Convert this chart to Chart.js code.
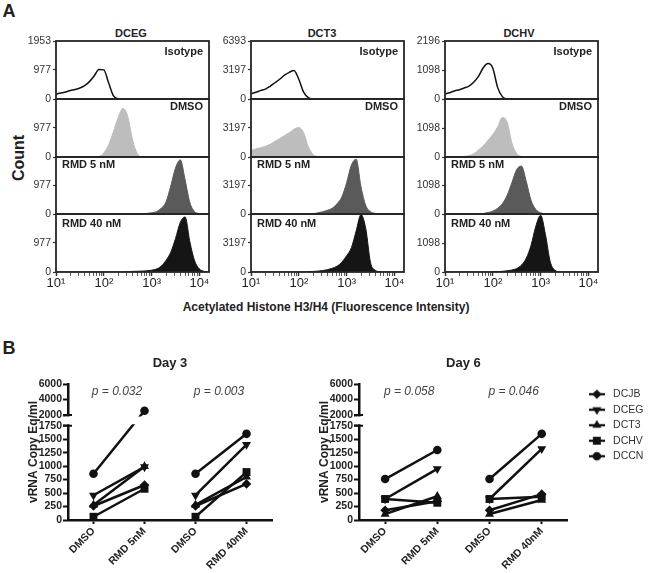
<!DOCTYPE html>
<html><head><meta charset="utf-8">
<script src="https://cdn.jsdelivr.net/npm/chart.js@4/dist/chart.umd.min.js"></script>
<style>
html,body{margin:0;padding:0;background:#fff;overflow:hidden;}
#root{position:relative;width:650px;height:573px;overflow:hidden;font-family:"Liberation Sans",Arial,Helvetica,sans-serif;color:#222;}
canvas{position:absolute;}
.t{position:absolute;white-space:nowrap;transform:translate(-50%,-50%);font-weight:bold;line-height:1;}
</style></head><body><div id="root">
<div class="t" style="left:9px;top:11px;font-size:18px">A</div>
<div class="t" style="left:9px;top:348px;font-size:18px">B</div>
<div class="t" style="left:131px;top:33px;font-size:11px">DCEG</div>
<div class="t" style="left:322px;top:33px;font-size:11px">DCT3</div>
<div class="t" style="left:519px;top:33px;font-size:11px">DCHV</div>
<div class="t" style="left:19px;top:158px;font-size:16px;transform:translate(-50%,-50%) rotate(-90deg)">Count</div>
<div class="t" style="left:326px;top:307px;font-size:12px">Acetylated Histone H3/H4 (Fluorescence Intensity)</div>
</div>
<script>
// ---------------- DATA ----------------
// Panel A: fluorescence bin centres (log-spaced) and counts per bin
const fluorescence = [10,12.6,15.8,20,25.1,31.6,39.8,50.1,63.1,79.4,100,126,158,200,251,316,398,501,631,794,1000,1259,1585,1995,2512,3162,3981,5012,6310,7943,10000,12589,15849];

const dcegIsotype = [170,200,235,285,320,370,450,585,780,995,980,545,115,10,0,0,0,0,0,0,0,0,0,0,0,0,0,0,0,0,0,0,0];
const dcegDMSO    = [0,0,0,0,0,0,0,0,0,20,135,410,840,1330,1640,1370,585,115,10,0,0,0,0,0,0,0,0,0,0,0,0,0,0];
const dcegRMD5    = [0,0,0,0,0,0,0,0,0,0,0,0,0,0,0,0,0,5,10,20,40,80,195,410,960,1580,1855,1170,390,80,15,0,0];
const dcegRMD40   = [0,0,0,0,0,0,0,0,0,0,0,0,0,0,0,10,20,25,30,40,60,100,195,390,665,1130,1670,1855,1015,370,100,20,0];

const dct3Isotype = [575,735,925,1085,1405,1790,2175,2620,2940,3150,2175,765,160,0,0,0,0,0,0,0,0,0,0,0,0,0,0,0,0,0,0,0,0];
const dct3DMSO    = [735,895,1020,1180,1405,1725,2045,2365,2685,3070,3260,2685,1150,255,65,0,0,0,0,0,0,0,0,0,0,0,0,0,0,0,0,0,0];
const dct3RMD5    = [0,0,0,0,0,0,0,0,0,0,0,0,0,30,130,255,415,640,1150,1920,3515,5500,6140,3070,960,255,65,0,0,0,0,0,0];
const dct3RMD40   = [0,0,0,0,0,0,0,0,0,0,0,0,30,65,95,160,255,415,640,1085,1790,2685,4540,6330,4795,1020,190,30,0,0,0,0,0];

const dchvIsotype = [200,240,305,350,415,485,635,855,1185,1340,1165,440,90,10,0,0,0,0,0,0,0,0,0,0,0,0,0,0,0,0,0,0,0];
const dchvDMSO    = [0,0,0,10,25,55,120,265,420,635,855,1140,1495,1320,525,130,20,0,0,0,0,0,0,0,0,0,0,0,0,0,0,0,0];
const dchvRMD5    = [0,0,0,0,0,0,0,10,20,55,110,220,395,725,1210,1715,1845,1250,525,175,45,10,0,0,0,0,0,0,0,0,0,0,0];
const dchvRMD40   = [0,0,0,0,0,0,0,0,0,0,10,15,25,45,75,130,265,525,1010,1735,2150,1425,395,65,10,0,0,0,0,0,0,0,0];

const cellLines  = ['DCEG','DCT3','DCHV'];
const conditions = ['Isotype','DMSO','RMD 5 nM','RMD 40 nM'];
const countMax   = [1953, 6393, 2196];
const countMid   = [977, 3197, 1098];
const fluorTicks = [10, 100, 1000, 10000];
const fluorTickLabels = ['10\u00B9','10\u00B2','10\u00B3','10\u2074'];

// Panel B
const treatments = ['DMSO','RMD 5nM','DMSO','RMD 40nM'];
const donors = ['DCJB','DCEG','DCT3','DCHV','DCCN'];
const day3DCJB = [260, 650, 260, 670];
const day3DCEG = [460, 985, 460, 1400];
const day3DCT3 = [280, 995, 280, 800];
const day3DCHV = [60, 580, 60, 890];
const day3DCCN = [860, 2550, 860, 1600];
const day6DCJB = [180, 350, 180, 480];
const day6DCEG = [390, 950, 390, 1320];
const day6DCT3 = [110, 440, 110, 370];
const day6DCHV = [390, 320, 390, 430];
const day6DCCN = [760, 1300, 760, 1600];
const pValuesDay3 = ['p = 0.032', 'p = 0.003'];
const pValuesDay6 = ['p = 0.058', 'p = 0.046'];
const vrnaTicks = [0,250,500,750,1000,1250,1500,1750,2000,4000,6000];
const yBreakLow = 1750, yBreakHigh = 2000;

// ---------------- SETUP ----------------
const FONT = '"Liberation Sans", Arial, Helvetica, sans-serif';
Chart.defaults.font.family = FONT;
Chart.defaults.color = '#222';
Chart.defaults.animation = false;
Chart.defaults.plugins.legend.display = false;
Chart.defaults.plugins.tooltip.enabled = false;
const root = document.getElementById('root');

// ---------- Panel A ----------
const histData = [
  [dcegIsotype, dcegDMSO, dcegRMD5, dcegRMD40],
  [dct3Isotype, dct3DMSO, dct3RMD5, dct3RMD40],
  [dchvIsotype, dchvDMSO, dchvRMD5, dchvRMD40]
];
const fillColors = ['#111111', '#bdbdbd', '#5a5a5a', '#151515'];
const colLefts = [56, 251, 445];
const plotW = 153;
const rowTops = [41, 99, 157, 214];
const rowHs = [58, 58, 57, 58];
const labelPos = [{align:'right', dy:10.5},{align:'right', dy:8},{align:'left', dy:8},{align:'left', dy:10}];

const allFluorTicks = [];
fluorTicks.forEach((d, i) => { for (let m = 1; m <= 9; m++) { const v = d * m; if (v <= 15849 && (i < 3 || m === 1)) allFluorTicks.push(v); } });

const framePlugin = {
  id: 'frame',
  afterDatasetsDraw(chart, args, opts) {
    const {ctx, chartArea: a} = chart;
    ctx.save();
    ctx.strokeStyle = '#262626'; ctx.lineWidth = 1.8;
    ctx.strokeRect(a.left, a.top, a.right - a.left, a.bottom - a.top);
    if (opts.label) {
      ctx.font = 'bold 11px ' + FONT; ctx.fillStyle = '#222'; ctx.textBaseline = 'middle';
      if (opts.align === 'right') { ctx.textAlign = 'right'; ctx.fillText(opts.label, a.right - 6, a.top + opts.dy); }
      else { ctx.textAlign = 'left'; ctx.fillText(opts.label, a.left + 6, a.top + opts.dy); }
    }
    ctx.restore();
  }
};

function makeHist(col, row) {
  const cv = document.createElement('canvas');
  const padT = 10, padR = 10, yW = 50;
  const last = row === 3;
  const xH = last ? 26 : 0, padB = last ? 0 : 10;
  cv.width = yW + plotW + padR;
  cv.height = padT + rowHs[row] + xH + padB;
  cv.style.left = (colLefts[col] - yW) + 'px';
  cv.style.top = (rowTops[row] - padT) + 'px';
  root.appendChild(cv);
  const counts = histData[col][row];
  const yTicks = row === 0 ? [0, countMid[col], countMax[col]] : [0, countMid[col]];
  new Chart(cv, {
    type: 'line',
    data: { datasets: [{
      data: fluorescence.map((x, i) => ({x, y: counts[i]})),
      borderColor: row === 0 ? '#111' : fillColors[row],
      backgroundColor: fillColors[row],
      borderWidth: row === 0 ? 1.5 : 1,
      fill: row === 0 ? false : 'origin',
      pointRadius: 0,
      cubicInterpolationMode: 'monotone'
    }]},
    options: {
      responsive: false,
      layout: { padding: { top: padT, right: padR, bottom: padB, left: 0 } },
      scales: {
        x: {
          type: 'logarithmic', min: 10, max: 15849, display: last,
          afterBuildTicks: s => { s.ticks = allFluorTicks.map(v => ({value: v, major: fluorTicks.includes(v)})); },
          afterFit: s => { s.height = xH; },
          ticks: { autoSkip: false, minRotation: 0, maxRotation: 0, padding: 0, color: '#222', font: {size: 13},
                   callback: v => { const k = fluorTicks.indexOf(v); return k >= 0 ? fluorTickLabels[k] : ''; } },
          grid: { drawOnChartArea: false, tickLength: 4, tickColor: '#333',
                  tickWidth: c => (c.tick && fluorTicks.includes(c.tick.value)) ? 1.5 : 0.8 },
          border: { display: false }
        },
        y: {
          min: 0, max: countMax[col],
          afterBuildTicks: s => { s.ticks = yTicks.map(v => ({value: v})); },
          afterFit: s => { s.width = yW; },
          ticks: { autoSkip: false, padding: 2, color: '#333', font: {size: 10.5}, callback: v => String(v) },
          grid: { drawOnChartArea: false, tickLength: 3, tickWidth: 1.2, tickColor: '#333' },
          border: { display: false }
        }
      },
      plugins: { frame: { label: conditions[row], align: labelPos[row].align, dy: labelPos[row].dy } }
    },
    plugins: [framePlugin]
  });
}
for (let c = 0; c < 3; c++) for (let r = 0; r < 4; r++) makeHist(c, r);

// ---------- Panel B ----------
const LOW_FRAC = 0.693, GAP_FRAC = 0.079;
class BrokenScale extends Chart.LinearScale {
  getPixelForValue(value) {
    if (value === null || value === undefined || isNaN(value)) return NaN;
    let d;
    if (value <= yBreakLow) d = value / yBreakLow * LOW_FRAC;
    else if (value >= yBreakHigh) d = LOW_FRAC + GAP_FRAC + (value - yBreakHigh) / (this.max - yBreakHigh) * (1 - LOW_FRAC - GAP_FRAC);
    else d = LOW_FRAC + (value - yBreakLow) / (yBreakHigh - yBreakLow) * GAP_FRAC;
    return this.getPixelForDecimal(d);
  }
  getValueForPixel(pixel) {
    const d = this.getDecimalForPixel(pixel);
    if (d <= LOW_FRAC) return d / LOW_FRAC * yBreakLow;
    if (d >= LOW_FRAC + GAP_FRAC) return yBreakHigh + (d - LOW_FRAC - GAP_FRAC) / (1 - LOW_FRAC - GAP_FRAC) * (this.max - yBreakHigh);
    return yBreakLow + (d - LOW_FRAC) / GAP_FRAC * (yBreakHigh - yBreakLow);
  }
}
BrokenScale.id = 'broken';
BrokenScale.defaults = {};
Chart.register(BrokenScale);

const markerStyles = ['rectRot', 'triangle', 'triangle', 'rect', 'circle'];
const markerRot = [0, 180, 0, 0, 0];
const markerRad = [4.8, 5.2, 5.2, 5.6, 4.3];

const breakPlugin = {
  id: 'axisBreak',
  afterDatasetsDraw(chart) {
    const {ctx, chartArea: a} = chart; const y = chart.scales.y;
    const yHi = y.getPixelForValue(yBreakHigh), yLo = y.getPixelForValue(yBreakLow);
    ctx.save();
    ctx.fillStyle = '#fff';
    ctx.fillRect(a.left - 2, yHi + 1.5, a.right - a.left + 4, yLo - yHi - 3);
    ctx.strokeStyle = '#111'; ctx.lineWidth = 2;
    ctx.beginPath();
    ctx.moveTo(a.left - 5, yHi); ctx.lineTo(a.left + 4, yHi);
    ctx.moveTo(a.left - 5, yLo); ctx.lineTo(a.left + 4, yLo);
    ctx.stroke();
    ctx.restore();
  }
};
const pvalPlugin = {
  id: 'pvals',
  afterDatasetsDraw(chart, args, opts) {
    const {ctx, chartArea: a} = chart; const x = chart.scales.x;
    ctx.save();
    ctx.font = 'italic 12px ' + FONT; ctx.fillStyle = '#444';
    ctx.textAlign = 'center'; ctx.textBaseline = 'middle';
    opts.texts.forEach((t, i) => {
      const px = (x.getPixelForValue(2 * i) + x.getPixelForValue(2 * i + 1)) / 2;
      ctx.fillText(t, px - 2, a.top + 7.5);
    });
    ctx.restore();
  }
};
// widen the legend's clip box after layout so its labels are not cut off
const legendRoomPlugin = {
  id: 'legendRoom',
  afterLayout(chart) {
    if (chart.legend && chart.options.plugins.legend.display) { chart.legend.right += 30; chart.legend.width += 30; }
  }
};

function makeIcon(i) {
  const c = document.createElement('canvas'); c.width = 16; c.height = 12;
  const g = c.getContext('2d');
  g.strokeStyle = '#111'; g.lineWidth = 2.3;
  g.beginPath(); g.moveTo(0, 6); g.lineTo(16, 6); g.stroke();
  g.fillStyle = '#111';
  if (Chart.helpers && Chart.helpers.drawPoint) {
    Chart.helpers.drawPoint(g, {pointStyle: markerStyles[i], rotation: markerRot[i], radius: markerRad[i], borderWidth: 0}, 8, 6);
  } else { g.beginPath(); g.arc(8, 6, 4, 0, Math.PI * 2); g.fill(); }
  return c;
}
const legendIcons = donors.map((d, i) => makeIcon(i));

function makeDay(axisX, title, series, pvals, withLegend) {
  const yW = 69;
  const cv = document.createElement('canvas');
  cv.width = withLegend ? 361 : (272 - axisX + yW + 10);
  cv.height = 223;
  cv.style.left = (axisX - yW) + 'px';
  cv.style.top = '350px';
  root.appendChild(cv);
  const scales = {
    x: {
      type: 'category', offset: true,
      afterFit: s => { s.height = 53; },
      ticks: { autoSkip: false, minRotation: 45, maxRotation: 45, padding: 1, color: '#222', font: {size: 10.5, weight: 'bold'} },
      grid: { drawOnChartArea: false, offset: false, tickLength: 4, tickWidth: 2, tickColor: '#111' },
      border: { display: true, width: 2.5, color: '#111' }
    },
    y: {
      type: 'broken', min: 0, max: 6000,
      afterBuildTicks: s => { s.ticks = vrnaTicks.map(v => ({value: v})); },
      afterFit: s => { s.width = yW; },
      ticks: { autoSkip: false, padding: 1, color: '#222', font: {size: 10.5, weight: 'bold'}, callback: v => String(v) },
      grid: { drawOnChartArea: false, tickLength: 5, tickWidth: 2, tickColor: '#111' },
      border: { display: true, width: 2.5, color: '#111' },
      title: { display: true, text: 'vRNA Copy Eq/ml', color: '#222', font: {size: 12, weight: 'bold'}, padding: {top: yW - 34 - 7.2, bottom: 0} }
    }
  };
  if (withLegend) {
    scales.gap = { type: 'linear', position: 'right', display: true,
      afterFit: s => { s.width = 13; },
      ticks: { display: false }, grid: { display: false }, border: { display: false } };
  }
  new Chart(cv, {
    type: 'line',
    data: {
      labels: treatments,
      datasets: series.map((vals, i) => ({
        label: donors[i], data: vals,
        borderColor: '#111', borderWidth: 2.5, tension: 0,
        pointStyle: markerStyles[i], pointRotation: markerRot[i], pointRadius: markerRad[i],
        pointBackgroundColor: '#111', pointBorderColor: '#111', pointBorderWidth: 0,
        clip: false,
        segment: { borderColor: c => c.p0DataIndex === 1 ? 'rgba(0,0,0,0)' : '#111' }
      }))
    },
    options: {
      responsive: false,
      layout: { padding: { top: 0, right: withLegend ? 12 : 10, bottom: 0, left: 0 } },
      scales,
      plugins: {
        title: { display: true, text: title, color: '#222', font: {size: 13, weight: 'bold'}, fullSize: false, padding: {top: 5.2, bottom: 13.2} },
        legend: {
          display: withLegend, position: 'right', align: 'start', fullSize: false,
          labels: {
            usePointStyle: true, pointStyleWidth: 22, padding: 5, color: '#333', font: {size: 10.5},
            generateLabels: chart => {
              const items = Chart.defaults.plugins.legend.labels.generateLabels(chart);
              items.forEach((it, i) => { it.pointStyle = legendIcons[i]; it.rotation = 0; });
              return items;
            }
          }
        },
        pvals: { texts: pvals }
      }
    },
    plugins: [breakPlugin, pvalPlugin, legendRoomPlugin]
  });
}
makeDay(68, 'Day 3', [day3DCJB, day3DCEG, day3DCT3, day3DCHV, day3DCCN], pValuesDay3, false);
makeDay(359, 'Day 6', [day6DCJB, day6DCEG, day6DCT3, day6DCHV, day6DCCN], pValuesDay6, true);
</script>
</body></html>
